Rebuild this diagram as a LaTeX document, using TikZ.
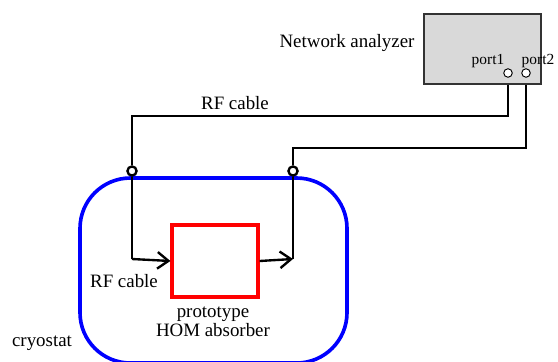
\documentclass[tikz,border=0pt]{standalone}
\usepackage{fontspec}
\setmainfont{Liberation Serif}
\usetikzlibrary{arrows.meta}
\tikzset{
  cable/.style={line width=1.5pt,draw=black},
  port/.style={circle,draw,line width=0.6pt,fill=white,inner sep=0pt,minimum size=5.4pt},
  feed/.style={circle,draw,line width=1.5pt,fill=white,inner sep=0pt,minimum size=5.8pt},
  lbl/.style={font=\fontsize{12}{14}\selectfont,inner sep=0pt}
}
\begin{document}
\begin{tikzpicture}[x=0.635pt,y=-0.635pt]
	\useasboundingbox (0,0) rectangle (558,361);
	\clip (0,0) rectangle (558,361);
		% network analyzer and its ports
		\node[draw=black!80,line width=0.9pt,fill=black!15,minimum width=74.3pt,minimum height=44.5pt,inner sep=0pt] (na) at (482.5,49) {};
		\node[lbl] (nal) at (347,43) {Network analyzer};
		\node[lbl,font=\fontsize{9.8}{11}\selectfont] (pl1) at (488,61) {port1};
		\node[lbl,font=\fontsize{9.8}{11}\selectfont] (pl2) at (538,61) {port2};
		\node[port] (p1) at (508,73) {};
		\node[port] (p2) at (526,73) {};
		% cryostat
		\draw[blue,line width=2.3pt,rounded corners=32] (80,178) rectangle (347,363);
		\node[lbl] (cl) at (42,343) {cryostat};
		% feedthroughs
		\coordinate (t1) at (508,116);
		\coordinate (t2) at (526,148);
		\node[feed] (f1) at (132,171) {};
		\node[feed] (f2) at (293,171) {};
		% absorber
		\node[draw=red,line width=2pt,minimum width=54.6pt,minimum height=45.7pt,inner sep=0pt] (ab) at (215,261) {};
		\node[lbl] (abl) at (213,323) {\begin{tabular}{c}prototype\\[-2pt] HOM absorber\end{tabular}};
		\coordinate (c1) at (132,259);
		\coordinate (c2) at (293,259);
		% cables
		\draw[cable] (t1 |- na.south) -- (t1) -| (f1.north);
		\draw[cable] (t2 |- na.south) -- (t2) -| (f2.north);
		\draw[cable] (f1.south) -- (c1);
		\draw[cable] (f2.south) -- (c2);
		\draw[cable,-{Straight Barb[length=7pt,width=10.5pt]}] (c1) -- (ab.west);
		\draw[cable,-{Straight Barb[length=7pt,width=10.5pt]}] (ab.east) -- (c2);
		\node[lbl] (rf1) at (235,103) {RF cable};
		\node[lbl] (rf2) at (124,281) {RF cable};
	\end{tikzpicture}
\end{document}
